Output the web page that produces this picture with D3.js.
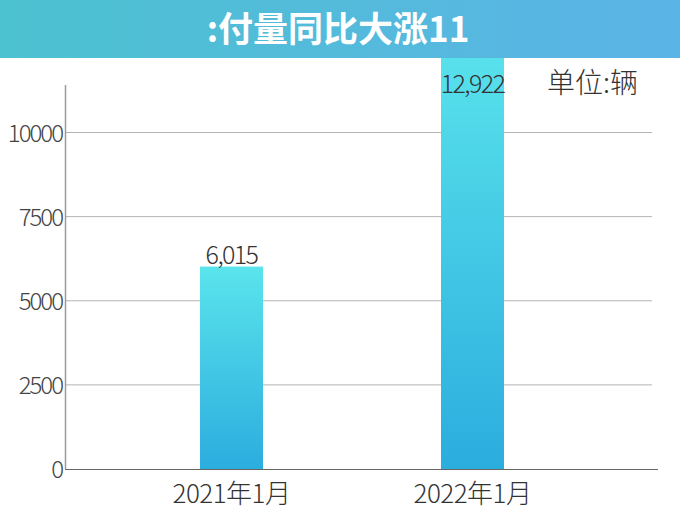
<!DOCTYPE html>
<html><head><meta charset="utf-8">
<script src="https://cdn.jsdelivr.net/npm/d3@7"></script>
<style>
html,body{margin:0;padding:0;background:#fff;}
svg{display:block;}
text{font-family:"Noto Sans CJK SC","Noto Sans",sans-serif;}
</style></head>
<body>
<script>
const categories = ["2021年1月", "2022年1月"];
const values = [6015, 12922];
const valueLabels = ["6,015", "12,922"];
const yTicks = [0, 2500, 5000, 7500, 10000];
const title = ":付量同比大涨11";
const unitLabel = "单位:辆";

const W = 680, H = 510;
const svg = d3.select("body").append("svg").attr("width", W).attr("height", H);
const defs = svg.append("defs");

const hg = defs.append("linearGradient").attr("id", "hdr").attr("x1", 0).attr("x2", 1).attr("y1", 0).attr("y2", 0);
hg.append("stop").attr("offset", 0).attr("stop-color", "#4cc2d0");
hg.append("stop").attr("offset", 1).attr("stop-color", "#5bb3e6");

const bg = defs.append("linearGradient").attr("id", "bar").attr("x1", 0).attr("x2", 0).attr("y1", 0).attr("y2", 1);
bg.append("stop").attr("offset", 0).attr("stop-color", "#5ae4ec");
bg.append("stop").attr("offset", 1).attr("stop-color", "#2badde");

const y = d3.scaleLinear().domain([0, 10000]).range([469, 132.5]);
const x = d3.scaleBand().domain(categories).range([111, 593]).paddingInner(0.7386).paddingOuter(0.3693);

// gridlines
svg.append("g").selectAll("line").data(yTicks.filter(d => d > 0)).join("line")
  .attr("x1", 65).attr("x2", 652)
  .attr("y1", d => y(d)).attr("y2", d => y(d))
  .attr("stroke", "#b4b4b4").attr("stroke-width", 1);

// y axis line
svg.append("line").attr("x1", 65.5).attr("x2", 65.5).attr("y1", 85).attr("y2", y(0))
  .attr("stroke", "#9a9a9a").attr("stroke-width", 1.5);

// y tick labels
svg.append("g").selectAll("text").data(yTicks).join("text")
  .attr("x", 62).attr("y", d => y(d) + 9)
  .attr("text-anchor", "end").attr("font-size", 24).attr("letter-spacing", "-2")
  .attr("font-weight", 300).attr("fill", "#444").text(d => d);

// bars
svg.append("g").selectAll("rect").data(values).join("rect")
  .attr("x", (d, i) => x(categories[i])).attr("width", x.bandwidth())
  .attr("y", d => y(d)).attr("height", d => y(0) - y(d))
  .attr("fill", "url(#bar)");

// baseline
svg.append("line").attr("x1", 65).attr("x2", 658).attr("y1", y(0) + 0.5).attr("y2", y(0) + 0.5)
  .attr("stroke", "#666").attr("stroke-width", 1.2);

// x labels
svg.append("g").selectAll("text").data(categories).join("text")
  .attr("x", d => x(d) + x.bandwidth() / 2).attr("y", 503)
  .attr("text-anchor", "middle").attr("font-size", 26).attr("letter-spacing", "-0.5")
  .attr("font-weight", 300).attr("fill", "#333").text(d => d);

// header
svg.append("rect").attr("x", 0).attr("y", 0).attr("width", W).attr("height", 58).attr("fill", "url(#hdr)");
svg.append("text").attr("x", 338).attr("y", 42).attr("text-anchor", "middle")
  .attr("font-size", 35).attr("font-weight", 700).attr("fill", "#fff").text(title);

// value labels
svg.append("g").selectAll("text").data(values).join("text")
  .attr("x", (d, i) => x(categories[i]) + x.bandwidth() / 2)
  .attr("y", d => Math.max(y(d) - 3, 93))
  .attr("text-anchor", "middle").attr("font-size", 25).attr("letter-spacing", "-1.6")
  .attr("font-weight", 300).attr("fill", "#333").text((d, i) => valueLabels[i]);

// unit
svg.append("text").attr("x", 547).attr("y", 93).attr("font-size", 28)
  .attr("font-weight", 300).attr("fill", "#333").text(unitLabel);
</script>
</body></html>
